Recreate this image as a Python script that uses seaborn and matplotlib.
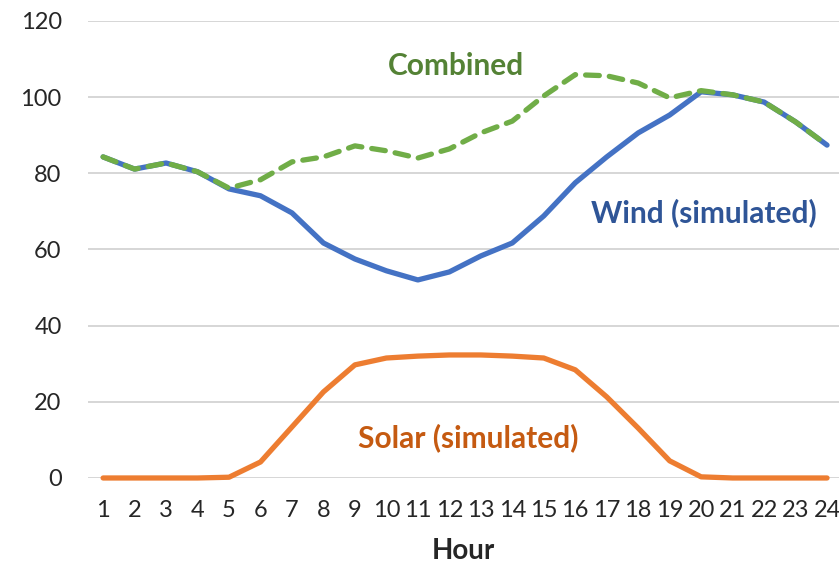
import pandas as pd
import matplotlib.pyplot as plt
import seaborn as sns

# valores
hours = list(range(1, 25))
wind = [84.3, 81.1, 82.7, 80.4, 75.9, 74.1, 69.6, 61.7, 57.5, 54.4, 52.0, 54.1,
        58.3, 61.7, 68.8, 77.5, 84.3, 90.6, 95.3, 101.4, 100.6, 98.7, 93.5, 87.4]
solar = [0.0, 0.0, 0.0, 0.0, 0.2, 4.2, 13.4, 22.6, 29.7, 31.5, 32.0, 32.3,
         32.3, 32.0, 31.5, 28.4, 21.3, 13.1, 4.5, 0.3, 0.0, 0.0, 0.0, 0.0]
combined = [84.3, 81.1, 82.7, 80.4, 76.1, 78.3, 83.0, 84.3, 87.2, 85.9, 84.0, 86.4,
            90.6, 93.7, 100.3, 105.9, 105.6, 103.7, 99.8, 101.7, 100.6, 98.7, 93.5, 87.4]
yticks = [0, 20, 40, 60, 80, 100, 120]

df = pd.DataFrame({'hour': hours, 'wind': wind, 'solar': solar, 'combined': combined})

sns.set_style('white')
plt.rcParams['font.family'] = ['Lato', 'DejaVu Sans']

fig = plt.figure(figsize=(8.39, 5.66), dpi=100)
ax = fig.add_axes([0.105, 0.1555, 0.895, 0.8075])

sns.lineplot(data=df, x='hour', y='wind', color='#4472C4', linewidth=3.8, ax=ax,
             solid_capstyle='round', solid_joinstyle='round', clip_on=False)
sns.lineplot(data=df, x='hour', y='solar', color='#ED7D31', linewidth=3.8, ax=ax,
             solid_capstyle='round', solid_joinstyle='round', clip_on=False)
sns.lineplot(data=df, x='hour', y='combined', color='#70AD47', linewidth=3.8, ax=ax,
             dashes=False, clip_on=False)
ax.lines[-1].set_dashes([2.6, 1.9])
ax.lines[-1].set_dash_capstyle('round')

ax.set_xlim(0.523, 24.38)
ax.set_ylim(0, 120)
ax.set_xticks(hours)
ax.set_yticks(yticks)
ax.tick_params(axis='x', length=0, pad=16, labelsize=17)
ax.tick_params(axis='y', length=0, pad=19, labelsize=17)
ax.yaxis.grid(True, color='#D0D0D0', linewidth=1.2)
ax.set_axisbelow(True)
for s in ax.spines.values():
    s.set_visible(False)

ax.set_ylabel('')
ax.set_xlabel('Hour', fontsize=20, fontweight='bold', labelpad=12)

ax.text(12.2, 108.2, 'Combined', color='#548235', fontsize=21.5, fontweight='bold',
        ha='center', va='center')
ax.text(20.1, 69.7, 'Wind (simulated)', color='#2F5597', fontsize=21.5, fontweight='bold',
        ha='center', va='center')
ax.text(12.6, 10.5, 'Solar (simulated)', color='#C55A11', fontsize=21.5, fontweight='bold',
        ha='center', va='center')

fig.savefig('out.png', dpi=100)
